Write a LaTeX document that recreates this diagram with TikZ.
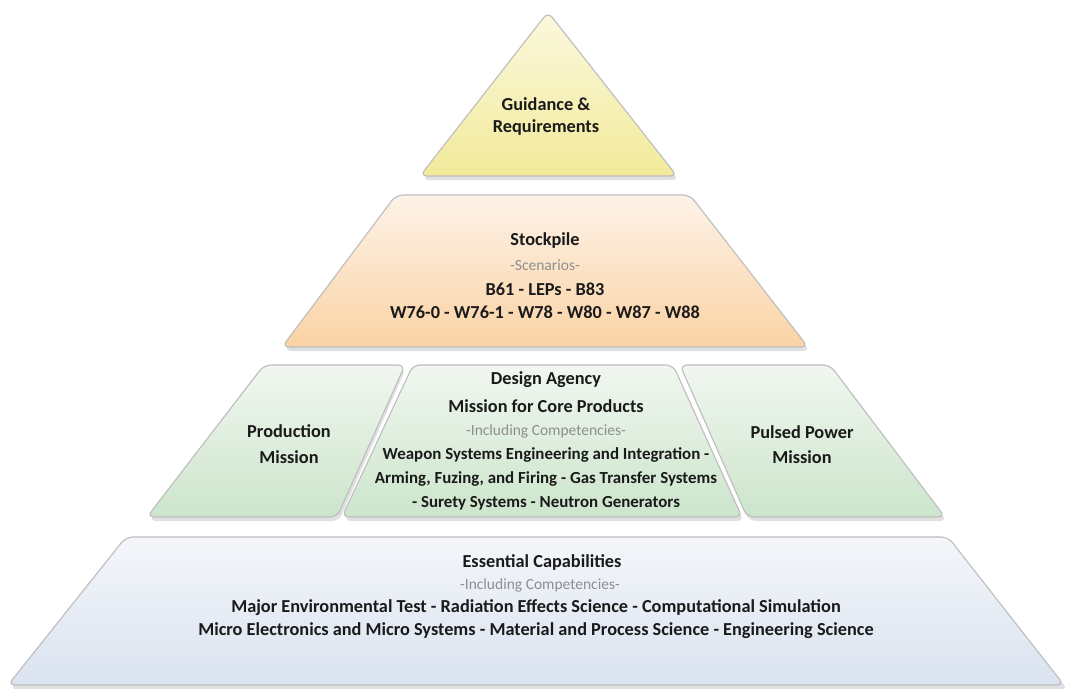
\documentclass[tikz,border=0pt]{standalone}
\usepackage{fontspec}
\setmainfont{Carlito}
\definecolor{ink}{HTML}{1A1A1A}
\definecolor{subgray}{HTML}{8E8E8E}
\definecolor{edgegray}{HTML}{BDBDBD}
\definecolor{yTop}{HTML}{FBF8DE}
\definecolor{yBot}{HTML}{F2EA9A}
\definecolor{oTop}{HTML}{FDF2E8}
\definecolor{oBot}{HTML}{FAD3A4}
\definecolor{gTop}{HTML}{F1F7F0}
\definecolor{gBot}{HTML}{CCE5CB}
\definecolor{bTop}{HTML}{F4F6FA}
\definecolor{bBot}{HTML}{DAE3F0}
\begin{document}
\begin{tikzpicture}[x=1pt,y=-1pt,
  layer/.style={draw=edgegray, line width=1.1pt, rounded corners=7pt},
  shadowpath/.style={fill=black, opacity=.12, rounded corners=7pt},
  title/.style={font=\fontsize{18.3}{22}\selectfont\bfseries, text=ink, inner sep=0pt},
  comp/.style={font=\fontsize{16.9}{20}\selectfont\bfseries, text=ink, inner sep=0pt},
  basecomp/.style={font=\fontsize{18.3}{22}\selectfont\bfseries, text=ink, inner sep=0pt},
  sub/.style={font=\fontsize{15.5}{18}\selectfont, text=subgray, inner sep=0pt}]
\useasboundingbox (0,0) rectangle (1068,688);
\fill[white] (0,0) rectangle (1068,688);

% soft shadows under each layer
\fill[shadowpath] (548,15) -- (679,180) -- (422,180) -- cycle;
\fill[shadowpath] (397,198) -- (691,198) -- (810,351) -- (284,351) -- cycle;
\fill[shadowpath] (265,368) -- (406,368) -- (339,521) -- (149,521) -- cycle;
\fill[shadowpath] (414,368) -- (674,368) -- (744,521) -- (344,521) -- cycle;
\fill[shadowpath] (681,368) -- (831,368) -- (947,521) -- (749,521) -- cycle;
\fill[shadowpath] (127,540) -- (949,540) -- (1068,690) -- (10,690) -- cycle;

% apex: guidance
\shadedraw[layer, top color=yTop, bottom color=yBot]
  (548,12) -- (677,176) -- (420,176) -- cycle;
% stockpile band
\shadedraw[layer, top color=oTop, bottom color=oBot]
  (396,195) -- (690,195) -- (808,347) -- (282,347) -- cycle;
% mission row
\shadedraw[layer, top color=gTop, bottom color=gBot]
  (264,365) -- (405,365) -- (337,517) -- (147,517) -- cycle;
\shadedraw[layer, top color=gTop, bottom color=gBot]
  (413,365) -- (673,365) -- (742,517) -- (342,517) -- cycle;
\shadedraw[layer, top color=gTop, bottom color=gBot]
  (680,365) -- (830,365) -- (945,517) -- (747,517) -- cycle;
% base: essential capabilities
\shadedraw[layer, top color=bTop, bottom color=bBot]
  (126,537) -- (948,537) -- (1064,685) -- (8,685) -- cycle;

% guidance text
\node[title] (g1) at (546,104) {Guidance \&};
\node[title] (g2) at (546,128) {Requirements};

% stockpile text
\node[title] (s1) at (545,241) {Stockpile};
\node[sub]   (s2) at (545,265) {-Scenarios-};
\node[title] (s3) at (545,289) {B61 - LEPs - B83};
\node[title] (s4) at (545,312) {W76-0 - W76-1 - W78 - W80 - W87 - W88};

% production mission
\node[title] (p1) at (289,431) {Production};
\node[title] (p2) at (289,457) {Mission};

% design agency
\node[title] (d1) at (546,380) {Design Agency};
\node[title] (d2) at (546,406) {Mission for Core Products};
\node[sub]   (d3) at (546,431) {-Including Competencies-};
\node[comp]  (d4) at (546,455) {Weapon Systems Engineering and Integration -};
\node[comp]  (d5) at (546,479) {Arming, Fuzing, and Firing - Gas Transfer Systems};
\node[comp]  (d6) at (546,503) {- Surety Systems - Neutron Generators};

% pulsed power mission
\node[title] (u1) at (802,432) {Pulsed Power};
\node[title] (u2) at (802,457) {Mission};

% essential capabilities
\node[title]    (e1) at (542,562) {Essential Capabilities};
\node[sub]      (e2) at (540,585) {-Including Competencies-};
\node[basecomp] (e3) at (536,608) {Major Environmental Test - Radiation Effects Science - Computational Simulation};
\node[basecomp] (e4) at (536,631) {Micro Electronics and Micro Systems - Material and Process Science - Engineering Science};
\end{tikzpicture}
\end{document}
